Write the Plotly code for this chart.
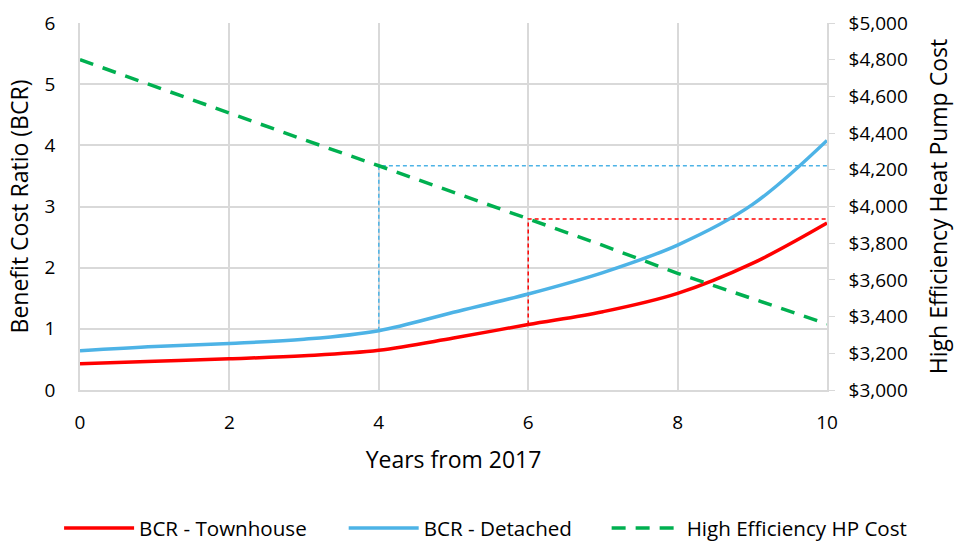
import plotly.graph_objects as go

years = [0, 1, 2, 3, 4, 5, 6, 7, 8, 9, 10]
bcr_townhouse = [0.43, 0.47, 0.51, 0.56, 0.65, 0.85, 1.07, 1.28, 1.58, 2.07, 2.73]
bcr_detached = [0.64, 0.71, 0.76, 0.83, 0.97, 1.27, 1.57, 1.92, 2.37, 3.03, 4.08]
hp_cost = [4800, 4654, 4508, 4364, 4222, 4077, 3932, 3788, 3636, 3496, 3360]

x_ticks = [0, 2, 4, 6, 8, 10]
left_ticks = [0, 1, 2, 3, 4, 5, 6]
right_ticks = [3000, 3200, 3400, 3600, 3800, 4000, 4200, 4400, 4600, 4800, 5000]
right_labels = ["$3,000", "$3,200", "$3,400", "$3,600", "$3,800", "$4,000",
                "$4,200", "$4,400", "$4,600", "$4,800", "$5,000"]

# reference (payback) markers: detached at year 4, townhouse at year 6
det_year = 4
town_year = 6


def cost_to_left(c):
    return (c - 3000) / 2000 * 6


det_ref_x = [det_year, det_year, 10]
det_ref_y = [bcr_detached[det_year], cost_to_left(hp_cost[det_year]), cost_to_left(hp_cost[det_year])]
town_ref_x = [town_year, town_year, 10]
town_ref_y = [bcr_townhouse[town_year], cost_to_left(hp_cost[town_year]), cost_to_left(hp_cost[town_year])]

FONT = "Open Sans"
RED = "#ff0000"
BLUE = "#4db3e6"
GREEN = "#00b050"
GRID = "#d9d9d9"

fig = go.Figure()
fig.add_trace(go.Scatter(x=det_ref_x, y=det_ref_y, mode="lines", showlegend=False,
                         line=dict(color=BLUE, width=1.5, dash="4px,3px"), hoverinfo="skip"))
fig.add_trace(go.Scatter(x=town_ref_x, y=town_ref_y, mode="lines", showlegend=False,
                         line=dict(color=RED, width=1.5, dash="4px,3px"), hoverinfo="skip"))
fig.add_trace(go.Scatter(x=years, y=bcr_townhouse, mode="lines", name="BCR - Townhouse",
                         legend="legend", line=dict(color=RED, width=3.5, shape="spline")))
fig.add_trace(go.Scatter(x=years, y=bcr_detached, mode="lines", name="BCR - Detached",
                         legend="legend2", line=dict(color=BLUE, width=3.5, shape="spline")))
fig.add_trace(go.Scatter(x=years, y=hp_cost, mode="lines", name="High Efficiency HP Cost",
                         legend="legend3", yaxis="y2",
                         line=dict(color=GREEN, width=3.5, dash="14px,10px")))

leg_common = dict(orientation="h", yref="container", y=1 - 528 / 542, yanchor="middle",
                  xanchor="left", itemwidth=70, font=dict(size=20.6), bgcolor="rgba(0,0,0,0)")

fig.update_layout(
    width=954, height=542,
    margin=dict(l=80, r=127, t=23, b=152, autoexpand=False),
    paper_bgcolor="white", plot_bgcolor="white",
    font=dict(family=FONT, size=19, color="#000000"),
    xaxis=dict(range=[0, 10], tickvals=x_ticks, showgrid=True, gridcolor=GRID, gridwidth=1.5,
               showline=True, linecolor=GRID, linewidth=1.5, zeroline=False, ticks="",
               ticklabelstandoff=14, automargin=False,
               title=dict(text="Years from 2017", standoff=18)),
    yaxis=dict(range=[0, 6], tickvals=left_ticks, showgrid=True, gridcolor=GRID, gridwidth=1.5,
               showline=True, linecolor=GRID, linewidth=1.5, zeroline=False,
               ticks="outside", ticklen=19, tickcolor="rgba(0,0,0,0)", automargin=False,
               title=dict(text="Benefit Cost Ratio (BCR)", standoff=10)),
    yaxis2=dict(range=[3000, 5000], tickvals=right_ticks, ticktext=right_labels, overlaying="y",
                side="right", showgrid=False, showline=True, linecolor=GRID, linewidth=1.5,
                ticks="outside", ticklen=6, tickcolor=GRID, zeroline=False,
                ticklabelstandoff=10, automargin=False,
                title=dict(text="High Efficiency Heat Pump Cost", standoff=24)),
    legend=dict(x=-0.028, **leg_common),
    legend2=dict(x=0.353, **leg_common),
    legend3=dict(x=0.705, **leg_common),
)

fig.write_html("out.html")
